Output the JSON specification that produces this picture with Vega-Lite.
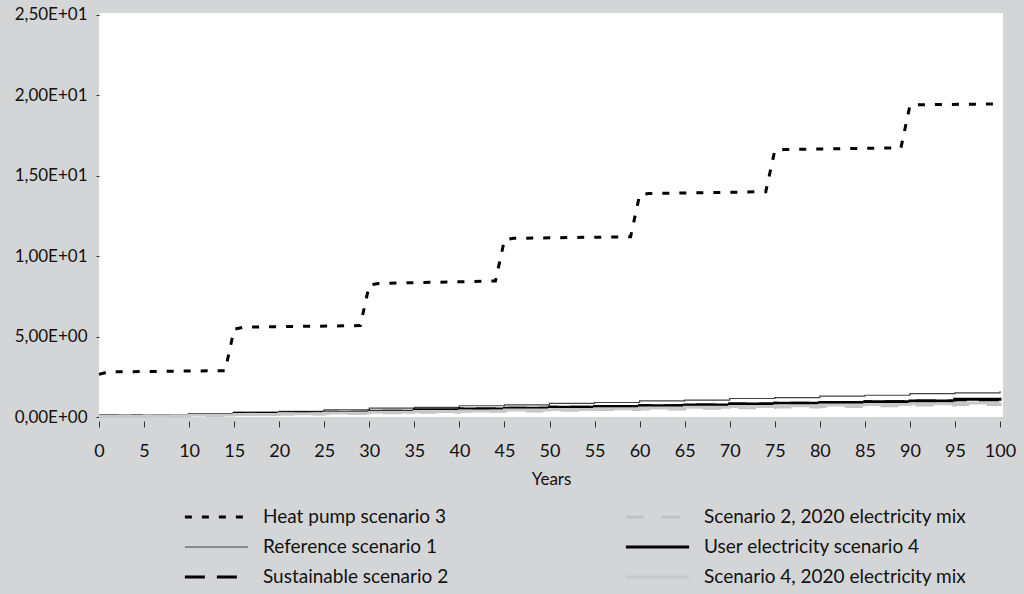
{
  "$schema": "https://vega.github.io/schema/vega-lite/v6.json",
  "autosize": "none",
  "width": 904,
  "height": 404,
  "padding": {"left": 99, "top": 13, "right": 21, "bottom": 177},
  "background": "#d4d5d7",
  "config": {
    "view": {"fill": "#ffffff", "stroke": null},
    "font": "Lato",
    "axis": {"labelFont": "Lato", "titleFont": "Lato", "labelColor": "#111111", "titleColor": "#111111", "grid": false, "domain": false, "tickColor": "#333333"}
  },
  "data": {"values": [
    {"s": "Heat pump scenario 3", "x": 0, "y": 2.65},
    {"s": "Heat pump scenario 3", "x": 1, "y": 2.8},
    {"s": "Heat pump scenario 3", "x": 14, "y": 2.88},
    {"s": "Heat pump scenario 3", "x": 15, "y": 5.45},
    {"s": "Heat pump scenario 3", "x": 16, "y": 5.58},
    {"s": "Heat pump scenario 3", "x": 29, "y": 5.68},
    {"s": "Heat pump scenario 3", "x": 30, "y": 8.2},
    {"s": "Heat pump scenario 3", "x": 31, "y": 8.3},
    {"s": "Heat pump scenario 3", "x": 44, "y": 8.45},
    {"s": "Heat pump scenario 3", "x": 45, "y": 11.0},
    {"s": "Heat pump scenario 3", "x": 46, "y": 11.1},
    {"s": "Heat pump scenario 3", "x": 59, "y": 11.2},
    {"s": "Heat pump scenario 3", "x": 60, "y": 13.8},
    {"s": "Heat pump scenario 3", "x": 61, "y": 13.88},
    {"s": "Heat pump scenario 3", "x": 74, "y": 14.0},
    {"s": "Heat pump scenario 3", "x": 75, "y": 16.55},
    {"s": "Heat pump scenario 3", "x": 76, "y": 16.62},
    {"s": "Heat pump scenario 3", "x": 89, "y": 16.72},
    {"s": "Heat pump scenario 3", "x": 90, "y": 19.35},
    {"s": "Heat pump scenario 3", "x": 91, "y": 19.4},
    {"s": "Heat pump scenario 3", "x": 100, "y": 19.45},

    {"s": "Reference scenario 1", "x": 0, "y": 0.1},
    {"s": "Reference scenario 1", "x": 5, "y": 0.15},
    {"s": "Reference scenario 1", "x": 10, "y": 0.2},
    {"s": "Reference scenario 1", "x": 15, "y": 0.3},
    {"s": "Reference scenario 1", "x": 20, "y": 0.35},
    {"s": "Reference scenario 1", "x": 25, "y": 0.45},
    {"s": "Reference scenario 1", "x": 30, "y": 0.55},
    {"s": "Reference scenario 1", "x": 35, "y": 0.6},
    {"s": "Reference scenario 1", "x": 40, "y": 0.7},
    {"s": "Reference scenario 1", "x": 45, "y": 0.75},
    {"s": "Reference scenario 1", "x": 50, "y": 0.85},
    {"s": "Reference scenario 1", "x": 55, "y": 0.9},
    {"s": "Reference scenario 1", "x": 60, "y": 1.0},
    {"s": "Reference scenario 1", "x": 65, "y": 1.05},
    {"s": "Reference scenario 1", "x": 70, "y": 1.15},
    {"s": "Reference scenario 1", "x": 75, "y": 1.2},
    {"s": "Reference scenario 1", "x": 80, "y": 1.3},
    {"s": "Reference scenario 1", "x": 85, "y": 1.35},
    {"s": "Reference scenario 1", "x": 90, "y": 1.45},
    {"s": "Reference scenario 1", "x": 95, "y": 1.5},
    {"s": "Reference scenario 1", "x": 100, "y": 1.6},

    {"s": "Sustainable scenario 2", "x": 0, "y": 0.05},
    {"s": "Sustainable scenario 2", "x": 5, "y": 0.1},
    {"s": "Sustainable scenario 2", "x": 10, "y": 0.15},
    {"s": "Sustainable scenario 2", "x": 15, "y": 0.2},
    {"s": "Sustainable scenario 2", "x": 20, "y": 0.25},
    {"s": "Sustainable scenario 2", "x": 25, "y": 0.3},
    {"s": "Sustainable scenario 2", "x": 30, "y": 0.35},
    {"s": "Sustainable scenario 2", "x": 35, "y": 0.4},
    {"s": "Sustainable scenario 2", "x": 40, "y": 0.5},
    {"s": "Sustainable scenario 2", "x": 45, "y": 0.55},
    {"s": "Sustainable scenario 2", "x": 50, "y": 0.6},
    {"s": "Sustainable scenario 2", "x": 55, "y": 0.65},
    {"s": "Sustainable scenario 2", "x": 60, "y": 0.7},
    {"s": "Sustainable scenario 2", "x": 65, "y": 0.75},
    {"s": "Sustainable scenario 2", "x": 70, "y": 0.8},
    {"s": "Sustainable scenario 2", "x": 75, "y": 0.85},
    {"s": "Sustainable scenario 2", "x": 80, "y": 0.9},
    {"s": "Sustainable scenario 2", "x": 85, "y": 0.95},
    {"s": "Sustainable scenario 2", "x": 90, "y": 1.0},
    {"s": "Sustainable scenario 2", "x": 95, "y": 1.05},
    {"s": "Sustainable scenario 2", "x": 100, "y": 1.15},

    {"s": "User electricity scenario 4", "x": 0, "y": 0.05},
    {"s": "User electricity scenario 4", "x": 5, "y": 0.1},
    {"s": "User electricity scenario 4", "x": 10, "y": 0.15},
    {"s": "User electricity scenario 4", "x": 15, "y": 0.2},
    {"s": "User electricity scenario 4", "x": 20, "y": 0.25},
    {"s": "User electricity scenario 4", "x": 25, "y": 0.3},
    {"s": "User electricity scenario 4", "x": 30, "y": 0.35},
    {"s": "User electricity scenario 4", "x": 35, "y": 0.45},
    {"s": "User electricity scenario 4", "x": 40, "y": 0.5},
    {"s": "User electricity scenario 4", "x": 45, "y": 0.55},
    {"s": "User electricity scenario 4", "x": 50, "y": 0.6},
    {"s": "User electricity scenario 4", "x": 55, "y": 0.65},
    {"s": "User electricity scenario 4", "x": 60, "y": 0.7},
    {"s": "User electricity scenario 4", "x": 65, "y": 0.75},
    {"s": "User electricity scenario 4", "x": 70, "y": 0.8},
    {"s": "User electricity scenario 4", "x": 75, "y": 0.85},
    {"s": "User electricity scenario 4", "x": 80, "y": 0.9},
    {"s": "User electricity scenario 4", "x": 85, "y": 0.95},
    {"s": "User electricity scenario 4", "x": 90, "y": 1.0},
    {"s": "User electricity scenario 4", "x": 95, "y": 1.1},
    {"s": "User electricity scenario 4", "x": 100, "y": 1.2},

    {"s": "Scenario 2, 2020 electricity mix", "x": 0, "y": 0.03},
    {"s": "Scenario 2, 2020 electricity mix", "x": 5, "y": 0.06},
    {"s": "Scenario 2, 2020 electricity mix", "x": 10, "y": 0.1},
    {"s": "Scenario 2, 2020 electricity mix", "x": 15, "y": 0.15},
    {"s": "Scenario 2, 2020 electricity mix", "x": 20, "y": 0.18},
    {"s": "Scenario 2, 2020 electricity mix", "x": 25, "y": 0.22},
    {"s": "Scenario 2, 2020 electricity mix", "x": 30, "y": 0.27},
    {"s": "Scenario 2, 2020 electricity mix", "x": 35, "y": 0.3},
    {"s": "Scenario 2, 2020 electricity mix", "x": 40, "y": 0.35},
    {"s": "Scenario 2, 2020 electricity mix", "x": 45, "y": 0.38},
    {"s": "Scenario 2, 2020 electricity mix", "x": 50, "y": 0.42},
    {"s": "Scenario 2, 2020 electricity mix", "x": 55, "y": 0.46},
    {"s": "Scenario 2, 2020 electricity mix", "x": 60, "y": 0.5},
    {"s": "Scenario 2, 2020 electricity mix", "x": 65, "y": 0.54},
    {"s": "Scenario 2, 2020 electricity mix", "x": 70, "y": 0.58},
    {"s": "Scenario 2, 2020 electricity mix", "x": 75, "y": 0.62},
    {"s": "Scenario 2, 2020 electricity mix", "x": 80, "y": 0.66},
    {"s": "Scenario 2, 2020 electricity mix", "x": 85, "y": 0.7},
    {"s": "Scenario 2, 2020 electricity mix", "x": 90, "y": 0.74},
    {"s": "Scenario 2, 2020 electricity mix", "x": 95, "y": 0.78},
    {"s": "Scenario 2, 2020 electricity mix", "x": 100, "y": 0.82},

    {"s": "Scenario 4, 2020 electricity mix", "x": 0, "y": 0.03},
    {"s": "Scenario 4, 2020 electricity mix", "x": 5, "y": 0.07},
    {"s": "Scenario 4, 2020 electricity mix", "x": 10, "y": 0.12},
    {"s": "Scenario 4, 2020 electricity mix", "x": 15, "y": 0.16},
    {"s": "Scenario 4, 2020 electricity mix", "x": 20, "y": 0.2},
    {"s": "Scenario 4, 2020 electricity mix", "x": 25, "y": 0.25},
    {"s": "Scenario 4, 2020 electricity mix", "x": 30, "y": 0.3},
    {"s": "Scenario 4, 2020 electricity mix", "x": 35, "y": 0.34},
    {"s": "Scenario 4, 2020 electricity mix", "x": 40, "y": 0.38},
    {"s": "Scenario 4, 2020 electricity mix", "x": 45, "y": 0.43},
    {"s": "Scenario 4, 2020 electricity mix", "x": 50, "y": 0.47},
    {"s": "Scenario 4, 2020 electricity mix", "x": 55, "y": 0.52},
    {"s": "Scenario 4, 2020 electricity mix", "x": 60, "y": 0.56},
    {"s": "Scenario 4, 2020 electricity mix", "x": 65, "y": 0.6},
    {"s": "Scenario 4, 2020 electricity mix", "x": 70, "y": 0.65},
    {"s": "Scenario 4, 2020 electricity mix", "x": 75, "y": 0.7},
    {"s": "Scenario 4, 2020 electricity mix", "x": 80, "y": 0.74},
    {"s": "Scenario 4, 2020 electricity mix", "x": 85, "y": 0.78},
    {"s": "Scenario 4, 2020 electricity mix", "x": 90, "y": 0.83},
    {"s": "Scenario 4, 2020 electricity mix", "x": 95, "y": 0.87},
    {"s": "Scenario 4, 2020 electricity mix", "x": 100, "y": 0.9}
  ]},
  "encoding": {
    "x": {"field": "x", "type": "quantitative", "scale": {"domain": [0, 100.33], "nice": false, "zero": false},
      "axis": {"values": [0,5,10,15,20,25,30,35,40,45,50,55,60,65,70,75,80,85,90,95,100], "title": "Years", "labelFontSize": 18, "titleFontSize": 17, "titleFontWeight": "normal", "tickSize": 6, "offset": 4, "labelPadding": 15, "titlePadding": 11, "labelFlush": false}},
    "y": {"field": "y", "type": "quantitative", "scale": {"domain": [0, 25.1], "nice": false},
      "axis": {"values": [0,5,10,15,20,25], "title": null, "labelFontSize": 17, "tickSize": 3, "labelPadding": 9, "labelFlush": false,
        "labelExpr": "datum.value == 0 ? '0,00E+00' : datum.value == 5 ? '5,00E+00' : datum.value == 10 ? '1,00E+01' : datum.value == 15 ? '1,50E+01' : datum.value == 20 ? '2,00E+01' : '2,50E+01'"}},
    "color": {"field": "s", "type": "nominal",
      "scale": {"domain": ["Heat pump scenario 3", "Reference scenario 1", "Sustainable scenario 2", "Scenario 2, 2020 electricity mix", "User electricity scenario 4", "Scenario 4, 2020 electricity mix"],
        "range": ["#000000", "#404040", "#000000", "#c2c2c2", "#000000", "#c8c8c8"]},
      "legend": {"orient": "none", "legendX": 84, "legendY": 494, "columns": 2, "columnPadding": 175, "rowPadding": 10, "clipHeight": 20, "title": null, "symbolType": "stroke", "symbolSize": 4000, "labelFontSize": 19, "labelFont": "Lato", "labelColor": "#111111", "labelOffset": 13, "labelLimit": 400}},
    "strokeDash": {"field": "s", "type": "nominal",
      "scale": {"domain": ["Heat pump scenario 3", "Reference scenario 1", "Sustainable scenario 2", "Scenario 2, 2020 electricity mix", "User electricity scenario 4", "Scenario 4, 2020 electricity mix"],
        "range": [[7, 10], [1, 0], [20, 12], [18, 18], [1, 0], [1, 0]]}},
    "strokeWidth": {"field": "s", "type": "nominal",
      "scale": {"type": "ordinal", "domain": ["Heat pump scenario 3", "Reference scenario 1", "Sustainable scenario 2", "Scenario 2, 2020 electricity mix", "User electricity scenario 4", "Scenario 4, 2020 electricity mix"],
        "range": [3, 1.2, 3, 3, 3, 3]}}
  },
  "layer": [
    {"transform": [{"filter": "datum.s != 'Heat pump scenario 3'"}],
     "mark": {"type": "line", "interpolate": "step-after"}},
    {"transform": [{"filter": "datum.s == 'Heat pump scenario 3'"}],
     "mark": {"type": "line", "interpolate": "linear"}}
  ]
}
